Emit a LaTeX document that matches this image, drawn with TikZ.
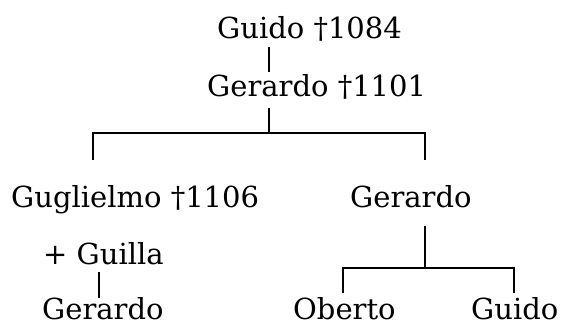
\documentclass[tikz,border=0pt]{standalone}
\usepackage{fontspec}
\setmainfont{DejaVu Serif}
\usetikzlibrary{calc}
\begin{document}
\begin{tikzpicture}[x=1pt,y=-1pt,
  person/.style={anchor=base west, inner sep=0pt, font=\fontsize{29}{34}\selectfont},
  link/.style={line width=1.8pt}]
\useasboundingbox (0,0) rectangle (566,322);
\node[person] (g1) at (217,38) {Guido †1084};
\node[person] (g2) at (207,96) {Gerardo †1101};
\node[person] (g3) at (11,207) {Guglielmo †1106};
\node[person] (g4) at (350,207) {Gerardo};
\node[person] (gl) at (43,264) {+ Guilla};
\node[person] (ge) at (42,319) {Gerardo};
\node[person] (ob) at (293,319) {Oberto};
\node[person] (gu) at (471,319) {Guido};
\coordinate (a) at (269,133);
\coordinate (al) at (93,133);
\coordinate (ar) at (425,133);
\coordinate (b) at (425,268);
\coordinate (bl) at (343,268);
\coordinate (br) at (514,268);
\coordinate (c) at (99,0);
\draw[link] ($(g1.base -| a)+(0,9)$) -- ($(g2.base -| a)+(0,-24)$);
\draw[link] ($(g2.base -| a)+(0,12)$) -- (a);
\draw[link] ($(g3.base -| al)+(0,-47)$) -- (al) -- (ar) -- ($(g4.base -| ar)+(0,-47)$);
\draw[link] ($(g4.base -| b)+(0,19)$) -- (b);
\draw[link] ($(ob.base -| bl)+(0,-26)$) -- (bl) -- (br) -- ($(gu.base -| br)+(0,-26)$);
\draw[link] ($(gl.base -| c)+(0,8)$) -- ($(ge.base -| c)+(0,-21)$);
\end{tikzpicture}
\end{document}
